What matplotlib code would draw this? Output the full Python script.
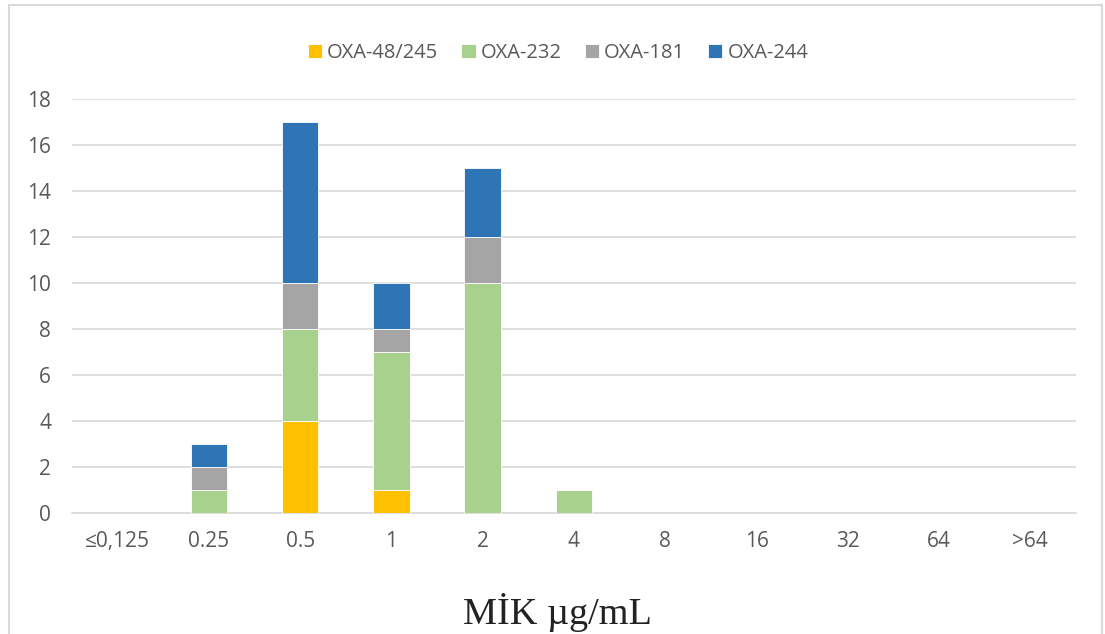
import matplotlib
matplotlib.use("Agg")
import matplotlib.pyplot as plt
from matplotlib.patches import Rectangle
import numpy as np

categories = ["≤0,125", "0.25", "0.5", "1", "2", "4", "8", "16", "32", "64", ">64"]
oxa48 = [0, 0, 4, 1, 0, 0, 0, 0, 0, 0, 0]
oxa232 = [0, 1, 4, 6, 10, 1, 0, 0, 0, 0, 0]
oxa181 = [0, 1, 2, 1, 2, 0, 0, 0, 0, 0, 0]
oxa244 = [0, 1, 7, 2, 3, 0, 0, 0, 0, 0, 0]
series = [("OXA-48/245", oxa48, "#FFC000"),
          ("OXA-232", oxa232, "#A9D18E"),
          ("OXA-181", oxa181, "#A5A5A5"),
          ("OXA-244", oxa244, "#2E75B6")]

plt.rcParams['font.family'] = ['Open Sans', 'DejaVu Sans']
fig = plt.figure(figsize=(11.05, 6.34), dpi=100)
ax = fig.add_axes([72/1105, 1-513/634, (1076-72)/1105, (513-99)/634])

x = np.arange(len(categories))
bottom = np.zeros(len(categories))
for name, vals, col in series:
    v = np.array(vals, dtype=float)
    ax.bar(x, v, 0.4, bottom=bottom, color=col, label=name, edgecolor="white", linewidth=0.6, zorder=3)
    bottom += v

ax.set_xlim(-0.5, len(categories) - 0.5)
ax.set_ylim(0, 18)
ax.set_yticks(range(0, 19, 2))
ax.set_xticks(x)
ax.set_xticklabels(categories)
ax.tick_params(axis='both', length=0, labelsize=15, labelcolor="#595959")
ax.tick_params(axis='x', pad=13)
ax.tick_params(axis='y', pad=15)
ax.grid(axis='y', color="#D9D9D9", linewidth=1.2, zorder=0)
for s in ["top", "right", "left"]:
    ax.spines[s].set_visible(False)
ax.spines["bottom"].set_color("#D9D9D9")
ax.spines["bottom"].set_linewidth(1.2)

leg = fig.legend(loc="center", bbox_to_anchor=(558/1105, 1-53/634), ncol=4, frameon=False,
                 fontsize=14.5, handlelength=0.7, handleheight=0.7, handletextpad=0.25,
                 columnspacing=1.15, labelcolor="#595959")

fig.text(557/1105, 1-612/634, "MİK µg/mL", ha="center", va="center",
         fontsize=27.5, family=["Liberation Serif", "DejaVu Serif"], color="#222222")

fig.patches.append(Rectangle((9/1105, -0.05), (1102-9)/1105, 1.05 - 5/634,
                             transform=fig.transFigure, fill=False, edgecolor="#D9D9D9", linewidth=1.5))

fig.savefig("out.png", dpi=100)
